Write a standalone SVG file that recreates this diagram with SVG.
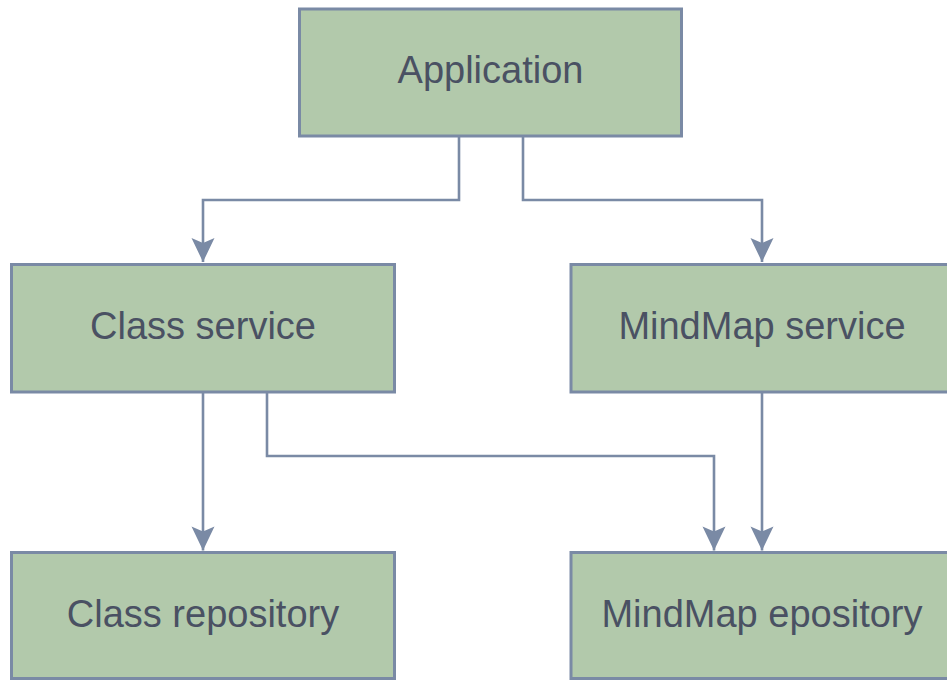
<svg xmlns="http://www.w3.org/2000/svg" width="947" height="680" viewBox="0 0 947 680">
  <style>
    .box { fill: #b2c9ab; stroke: #7a8aa5; stroke-width: 3; }
    .label { font-family: "Liberation Sans", Arial, sans-serif; font-size: 38px; fill: #4a5163; text-anchor: middle; }
    .link { fill: none; stroke: #7a8aa5; stroke-width: 2.6; marker-end: url(#arrow); }
  </style>
  <defs>
    <marker id="arrow" viewBox="-26 -12 27 24" markerWidth="27" markerHeight="24" refX="0" refY="0" markerUnits="userSpaceOnUse" orient="auto">
      <path d="M-24,-11.5 L-19,0 L-24,11.5 L0,0 Z" fill="#7a8aa5"/>
    </marker>
  </defs>
  <rect width="947" height="680" fill="#ffffff"/>

  <g id="connectors">
    <path class="link" d="M459,137 V200 H203 V262"/>
    <path class="link" d="M523,137 V200 H762 V262"/>
    <path class="link" d="M203,393 V550.5"/>
    <path class="link" d="M267,393 V456 H714 V550.5"/>
    <path class="link" d="M762,393 V550.5"/>
  </g>

  <g id="application">
    <rect class="box" x="299.5" y="9" width="382" height="127"/>
    <text class="label" x="490.5" y="83">Application</text>
  </g>

  <g id="class-service">
    <rect class="box" x="11.5" y="264.5" width="383" height="127.5"/>
    <text class="label" x="203" y="339">Class service</text>
  </g>

  <g id="mindmap-service">
    <rect class="box" x="571" y="264.5" width="383" height="127.5"/>
    <text class="label" x="762" y="339">MindMap service</text>
  </g>

  <g id="class-repository">
    <rect class="box" x="11.5" y="552.5" width="383" height="126"/>
    <text class="label" x="203" y="627">Class repository</text>
  </g>

  <g id="mindmap-repository">
    <rect class="box" x="571" y="552.5" width="383" height="126"/>
    <text class="label" x="762" y="627">MindMap epository</text>
  </g>
</svg>
